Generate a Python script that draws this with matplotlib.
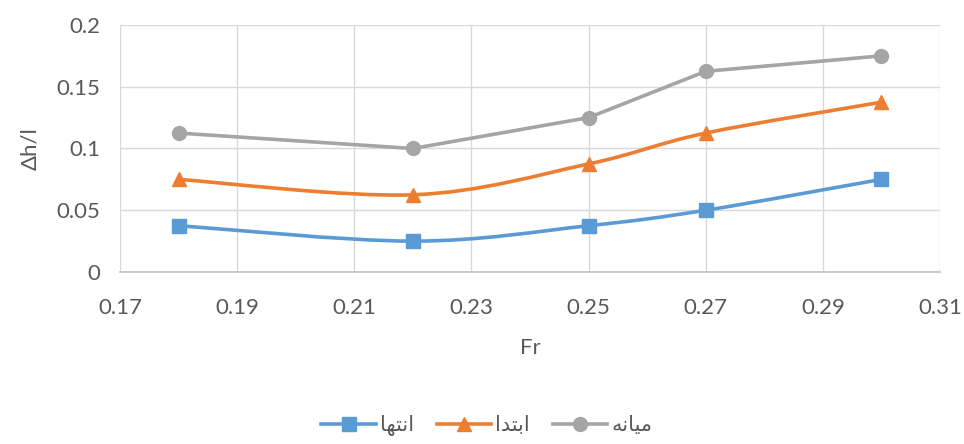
import matplotlib.pyplot as plt
from matplotlib.path import Path
from matplotlib.patches import PathPatch
from matplotlib.lines import Line2D

plt.rcParams['font.family'] = ['Lato', 'DejaVu Sans']

fr = [0.18, 0.22, 0.25, 0.27, 0.30]
dh_end = [0.0375, 0.025, 0.0375, 0.05, 0.075]
dh_start = [0.075, 0.0625, 0.0875, 0.1125, 0.1375]
dh_mid = [0.1125, 0.1, 0.125, 0.1625, 0.175]

# Arabic names in shaped presentation forms, visual order
name_end = '\ufe8e\ufeec\ufe98\ufee7\ufe8d'      # انتها
name_start = '\ufe8d\ufeaa\ufe98\ufe91\ufe8d'    # ابتدا
name_mid = '\ufeea\ufee7\ufe8e\ufef4\ufee3'      # میانه

xticks = [0.17, 0.19, 0.21, 0.23, 0.25, 0.27, 0.29, 0.31]
yticks = [0, 0.05, 0.1, 0.15, 0.2]

c_blue = '#5b9bd5'
c_orange = '#ed7d31'
c_gray = '#a5a5a5'
txt = '#595959'


def smooth_path(xs, ys):
    # bezier segments with catmull-rom style control points
    verts = [(xs[0], ys[0])]
    codes = [Path.MOVETO]
    n = len(xs)
    for i in range(n - 1):
        x0, y0 = (xs[i - 1], ys[i - 1]) if i > 0 else (xs[i], ys[i])
        x3, y3 = (xs[i + 2], ys[i + 2]) if i + 2 < n else (xs[i + 1], ys[i + 1])
        c1 = (xs[i] + (xs[i + 1] - x0) / 6, ys[i] + (ys[i + 1] - y0) / 6)
        c2 = (xs[i + 1] - (x3 - xs[i]) / 6, ys[i + 1] - (y3 - ys[i]) / 6)
        verts += [c1, c2, (xs[i + 1], ys[i + 1])]
        codes += [Path.CURVE4] * 3
    return Path(verts, codes)


fig = plt.figure(figsize=(9.64, 4.44), dpi=100)
ax = fig.add_axes([0.1245, 0.3874, 0.8506, 0.5563])

lw = 2.6
ms = 10
ax.add_patch(PathPatch(smooth_path(fr, dh_end), fill=False, ec=c_blue, lw=lw, zorder=3))
ax.plot(fr, dh_end, ls='none', marker='s', ms=ms, color=c_blue, zorder=4)
ax.add_patch(PathPatch(smooth_path(fr, dh_start), fill=False, ec=c_orange, lw=lw, zorder=3))
ax.plot(fr, dh_start, ls='none', marker='^', ms=ms, color=c_orange, zorder=4)
ax.plot(fr, dh_mid, marker='o', ms=ms, lw=lw, color=c_gray, zorder=4)

ax.set_xlim(0.17, 0.31)
ax.set_ylim(0, 0.2)
ax.set_xticks(xticks)
ax.set_xticklabels([f'{v:g}' for v in xticks])
ax.set_yticks(yticks)
ax.set_yticklabels([f'{v:g}' for v in yticks])
ax.grid(True, color='#d9d9d9', lw=1)
ax.set_axisbelow(True)
for s in ['top', 'right', 'left']:
    ax.spines[s].set_visible(False)
ax.spines['bottom'].set_color('#bfbfbf')
ax.spines['bottom'].set_linewidth(1.2)
ax.tick_params(length=0, labelsize=16, labelcolor=txt)
ax.tick_params(axis='x', pad=19)
ax.tick_params(axis='y', pad=14)
ax.set_xlabel('Fr', fontsize=16, color=txt, labelpad=14)
ax.set_ylabel('\u0394h/l', fontsize=16, color=txt, labelpad=12)

handles = [
    Line2D([], [], color=c_blue, lw=lw, marker='s', ms=ms),
    Line2D([], [], color=c_orange, lw=lw, marker='^', ms=ms),
    Line2D([], [], color=c_gray, lw=lw, marker='o', ms=ms),
]
fig.legend(handles, [name_end, name_start, name_mid], loc='lower center',
           bbox_to_anchor=(0.505, -0.025), ncol=3, frameon=False, fontsize=15,
           labelcolor=txt, handlelength=2.6, columnspacing=1.1, handletextpad=0.2)

fig.savefig('out.png', dpi=100)
